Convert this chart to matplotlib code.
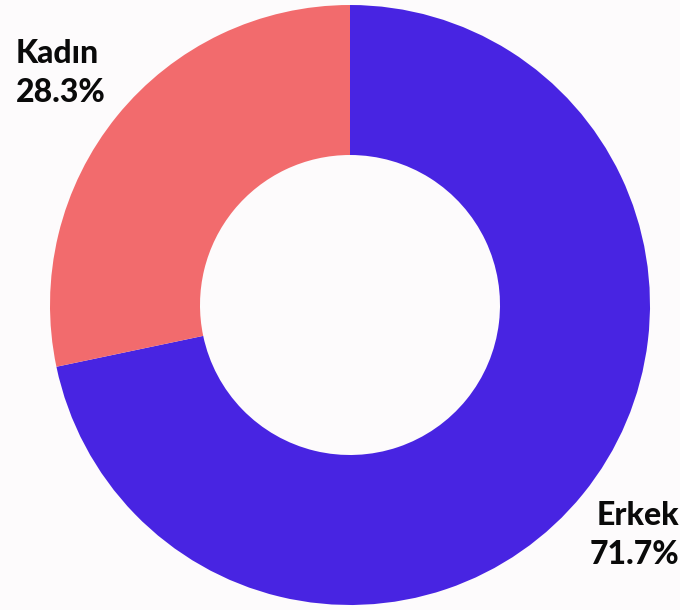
import matplotlib.pyplot as plt

labels = ["Erkek", "Kadın"]
values = [71.7, 28.3]
colors = ["#4824e2", "#f26b6d"]

W, H = 680, 610
bg = "#fdfbfc"

fig = plt.figure(figsize=(W / 100, H / 100), dpi=100, facecolor=bg)
ax = fig.add_axes([0, 0, 1, 1])
ax.set_facecolor(bg)
ax.set_xlim(0, W)
ax.set_ylim(0, H)
ax.set_aspect("equal")
ax.axis("off")

# donut, clockwise from 12 o'clock
ax.pie(values, colors=colors, startangle=90, counterclock=False,
       center=(350, H - 305), radius=300,
       wedgeprops=dict(width=150, linewidth=0))
ax.set_xlim(0, W)
ax.set_ylim(0, H)

font = dict(family=["Lato", "DejaVu Sans"], fontsize=23, fontweight="black",
            color="#0a0a0a", linespacing=1.38)
ax.text(16, H - 73, f"{labels[1]}\n{values[1]:.1f}%", ha="left", va="center", **font)
ax.text(679, H - 535, f"{labels[0]}\n{values[0]:.1f}%", ha="right", va="center", **font)

fig.savefig("out.png", dpi=100, facecolor=bg)
